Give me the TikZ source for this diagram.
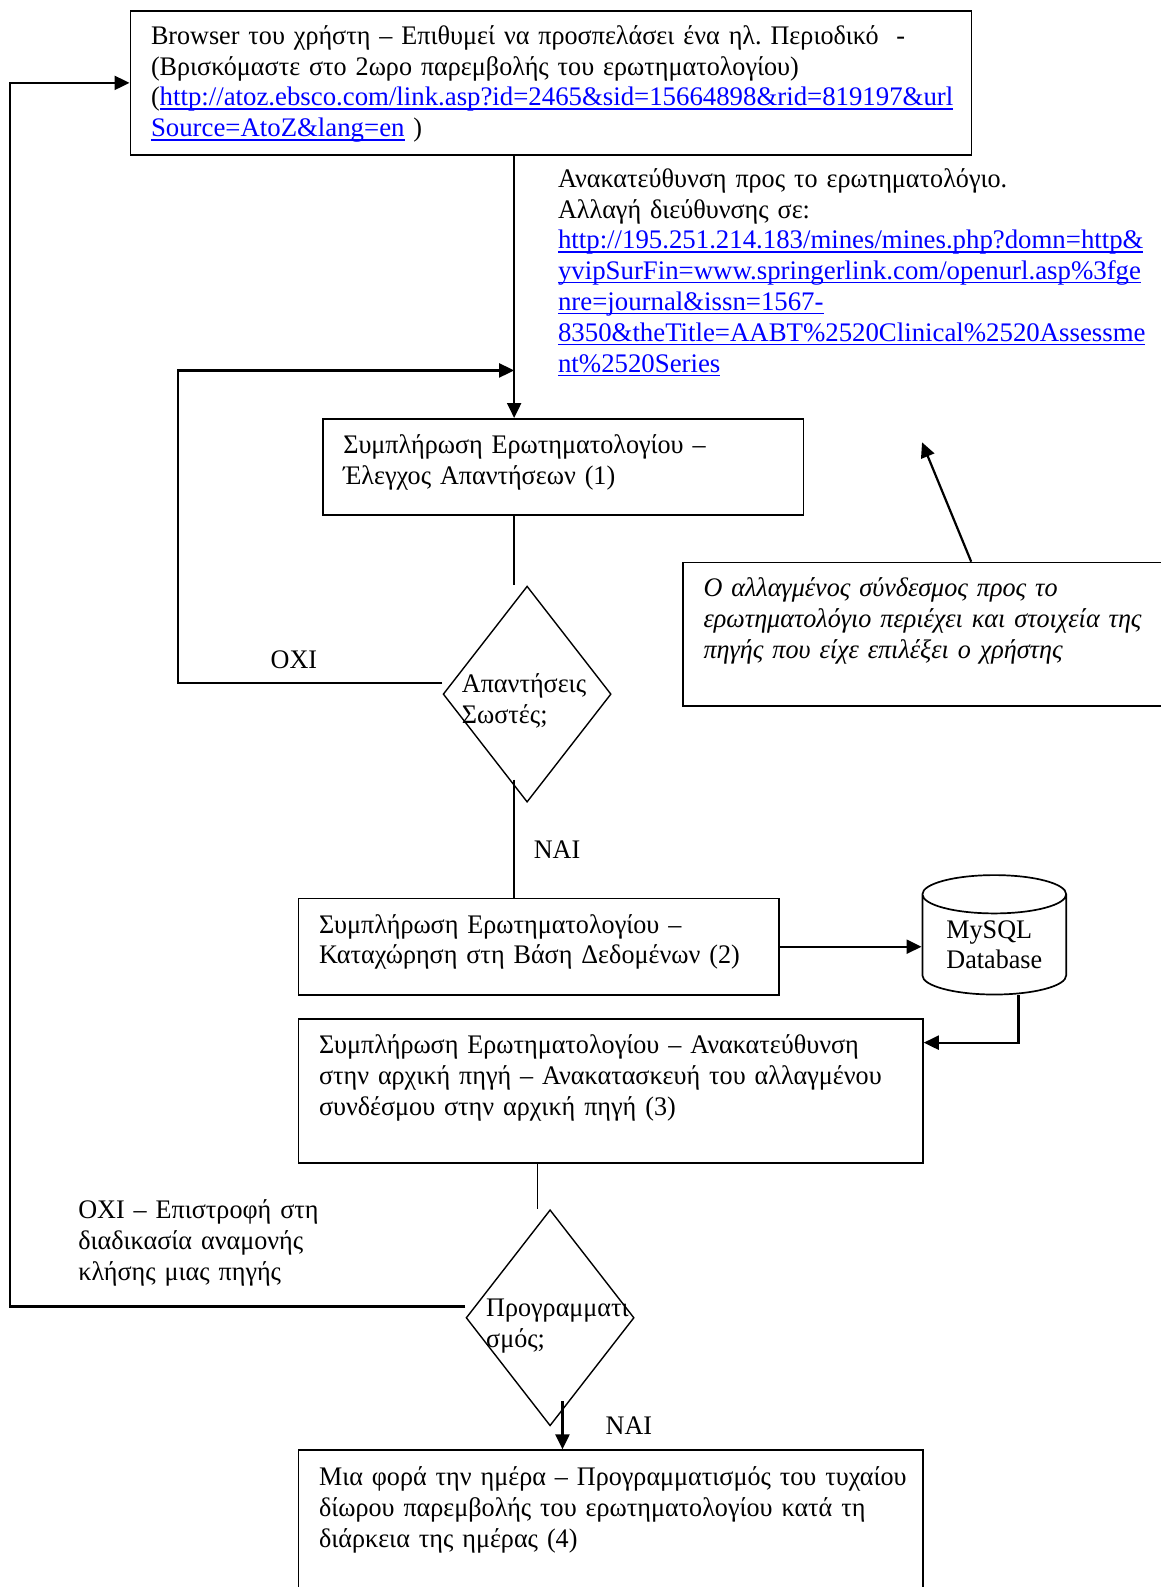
\documentclass[tikz,border=0pt]{standalone}
\usepackage{fontspec}
\setmainfont{Liberation Serif}[FakeStretch=0.975]
\newfontfamily\urlfont{Liberation Serif}
\frenchspacing
\usetikzlibrary{positioning, shapes.geometric, arrows.meta}
\definecolor{linkblue}{RGB}{0,0,255}
\newcommand{\docfont}{\fontsize{13.4pt}{15.4pt}\selectfont}
\newsavebox{\lnkbox}
\newcommand{\lnk}[1]{\textcolor{linkblue}{\sbox{\lnkbox}{\urlfont #1}\rlap{\rule[-1.9pt]{\wd\lnkbox}{0.65pt}}\usebox{\lnkbox}}}
\tikzset{
every node/.style={font=\docfont},
stepbox/.style={draw, line width=0.85pt, anchor=north west, align=left, inner xsep=10.3pt, inner ysep=0pt},
decision/.style={draw, diamond, line width=0.7pt, minimum width=84pt, minimum height=108pt, inner sep=0pt},
database/.style={draw, cylinder, shape border rotate=90, aspect=0.4, line width=0.85pt, minimum width=71.9pt, minimum height=59.7pt, align=left, inner sep=0pt},
plain/.style={anchor=base west, align=left, inner sep=0pt},
arr/.style={line width=1.1pt, -{Triangle[length=7.5pt, width=7pt]}},
wire/.style={line width=0.8pt},
}

\begin{document}
\begin{tikzpicture}[x=0.506pt, y=-0.506pt]
    \useasboundingbox (0,0) rectangle (1147,1568);

    %boxes
    \node[stepbox, text width=399.9pt, text height=16.7pt, text depth=55.2pt] (top) at (128,10)
        {Browser του χρήστη – Επιθυμεί να προσπελάσει ένα ηλ. Περιοδικό\ \ -\\
         (Βρισκόμαστε στο 2ωρο παρεμβολής του ερωτηματολογίου)\\
         (\lnk{http://atoz.ebsco.com/link.asp?id=2465\&sid=15664898\&rid=819197\&url}\\
         \lnk{Source=AtoZ\&lang=en} )};
    \node[stepbox, text width=219.8pt, text height=17.2pt, text depth=30.9pt] (box1) at (318,413)
        {Συμπλήρωση Ερωτηματολογίου –\\Έλεγχος Απαντήσεων (1)};
    \node[stepbox, text width=219.8pt, text height=17.2pt, text depth=30.9pt] (box2) at (294,887)
        {Συμπλήρωση Ερωτηματολογίου –\\Καταχώρηση στη Βάση Δεδομένων (2)};
    \node[stepbox, text width=291.6pt, text height=17.2pt, text depth=54.6pt] (box3) at (294,1006)
        {Συμπλήρωση Ερωτηματολογίου – Ανακατεύθυνση\\στην αρχική πηγή – Ανακατασκευή του αλλαγμένου\\συνδέσμου στην αρχική πηγή (3)};
    \node[stepbox, text width=291.6pt, text height=17.7pt, text depth=57.2pt] (box4) at (294,1432)
        {\mbox{Μια φορά την ημέρα – Προγραμματισμός του τυχαίου}\\δίωρου παρεμβολής του ερωτηματολογίου κατά τη\\διάρκεια της ημέρας (4)};
    \node[stepbox, text width=230.4pt, text height=17.2pt, text depth=54.6pt, font=\docfont\itshape] (note) at (674,555)
        {Ο αλλαγμένος σύνδεσμος προς το\\ερωτηματολόγιο περιέχει και στοιχεία της\\πηγής που είχε επιλέξει ο χρήστης};
    \node[database] (db) at (982.4,933.5) {MySQL\\Database};

    %decisions
    \node[decision] (dec1) at (520.8,685.8) { };
    \node[plain, text width=70pt] (dec1txt) at (456,684.5) {Απαντήσεις\\Σωστές;};
    \node[decision] (dec2) at (543.5,1302) { };
    \node[plain, text width=80pt] (dec2txt) at (480,1301) {Προγραμματι\\σμός;};

    %labels
    \node[plain, text width=320pt] (redir) at (551,185)
        {Ανακατεύθυνση προς το ερωτηματολόγιο.\\
         Αλλαγή διεύθυνσης σε:\\
         \lnk{http://195.251.214.183/mines/mines.php?domn=http\&}\\
         \lnk{yvipSurFin=www.springerlink.com/openurl.asp\%3fge}\\
         \lnk{nre=journal\&issn=1567-}\\
         \lnk{8350\&theTitle=AABT\%2520Clinical\%2520Assessme}\\
         \lnk{nt\%2520Series}};
    \node[plain, text width=40pt] (no1) at (267,660) {ΟΧΙ};
    \node[plain, text width=40pt] (yes1) at (527,848) {ΝΑΙ};
    \node[plain, text width=150pt] (no2) at (77,1204)
        {ΟΧΙ – Επιστροφή στη\\διαδικασία αναμονής\\κλήσης μιας πηγής};
    \node[plain, text width=40pt] (yes2) at (598,1417) {ΝΑΙ};

    %helper points
    \coordinate (merge) at (508,366);
    \coordinate (back1) at (176,0);
    \coordinate (back2) at (10,0);
    \coordinate (notetip) at (911,437);

    %main line
    \draw[arr] (merge |- top.south) -- (merge |- box1.north);
    \draw[wire] (merge |- box1.south) -- (merge |- dec1.north);
    \draw[wire] ([yshift=11.6pt]dec1.south -| merge) -- (merge |- box2.north);

    %loop ΟΧΙ (1)
    \draw[arr] ([yshift=5.6pt]dec1.west) -- ([yshift=5.6pt]dec1.west -| back1) |- (merge);

    %database
    \draw[arr] (box2.east) -- (box2.east -| db.west);
    \draw[arr] ([xshift=12.1pt]db.south) |- ([yshift=24.1pt]box3.east);

    %scheduling
    \draw[wire] ([xshift=-6.2pt]dec2.north |- box3.south) -- ([xshift=-6.2pt]dec2.north);
    \draw[arr] ([xshift=6.2pt, yshift=12.6pt]dec2.south) -- ([xshift=6.2pt]dec2.south |- box4.north);
    \draw[arr] ([yshift=5.6pt]dec2.west) -- ([yshift=5.6pt]dec2.west -| back2) |- (top.west);

    %note
    \draw[arr] ([xshift=144.5pt]note.north west) -- (notetip);
\end{tikzpicture}
\end{document}
